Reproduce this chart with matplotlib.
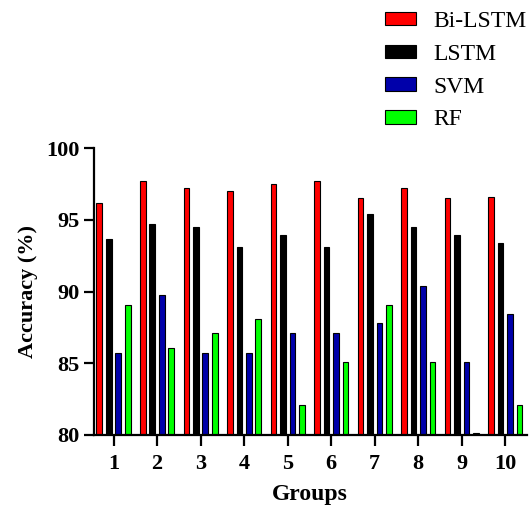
import numpy as np
import matplotlib
matplotlib.use("Agg")
from matplotlib import pyplot as plt

plt.rcParams['font.family'] = ['Liberation Serif', 'DejaVu Serif']

groups = ['1', '2', '3', '4', '5', '6', '7', '8', '9', '10']
bilstm = [96.2, 97.7, 97.25, 97.05, 97.5, 97.7, 96.5, 97.25, 96.5, 96.6]
lstm = [93.65, 94.75, 94.5, 93.1, 93.95, 93.1, 95.45, 94.5, 93.95, 93.4]
svm = [85.7, 89.8, 85.7, 85.7, 87.1, 87.1, 87.8, 90.4, 85.1, 88.45]
rf = [89.1, 86.1, 87.1, 88.1, 82.1, 85.1, 89.1, 85.1, 80.15, 82.1]

series = [('Bi-LSTM', bilstm, '#FF0000'),
          ('LSTM', lstm, '#000000'),
          ('SVM', svm, '#0000AA'),
          ('RF', rf, '#00FF00')]

fig = plt.figure(figsize=(5.30, 5.13), dpi=100)
ax = fig.add_axes([93.5/530, 1 - 435/513, (527 - 93.5)/530, (435 - 148.3)/513])

x = np.arange(1, len(groups) + 1)
step = 0.218
width = 0.13
for i, (name, vals, col) in enumerate(series):
    v = np.array(vals)
    ax.bar(x + (i - 1.5) * step, v - 80, bottom=80, width=width, color=col,
           edgecolor='black', linewidth=0.8, label=name)

ax.set_ylim(80, 100)
ax.set_xlim(0.54, 10.5)
ax.set_yticks([80, 85, 90, 95, 100])
ax.set_xticks(x)
ax.set_xticklabels(groups)

for s in ['top', 'right']:
    ax.spines[s].set_visible(False)
for s in ['left', 'bottom']:
    ax.spines[s].set_linewidth(1.6)

ax.tick_params(axis='y', length=7, width=1.6, pad=3, labelsize=16)
ax.tick_params(axis='x', length=8, width=1.6, pad=6, labelsize=16)
for lab in ax.get_xticklabels() + ax.get_yticklabels():
    lab.set_fontweight('bold')

ax.set_ylabel('Accuracy (%)', fontsize=16, fontweight='bold', labelpad=6)
ax.set_xlabel('Groups', fontsize=17, fontweight='bold', labelpad=7)

fig.legend(loc='upper left', bbox_to_anchor=(385/530, 1 - 11/513),
           frameon=False, fontsize=17, handlelength=1.3, handleheight=0.5,
           handletextpad=0.75, labelspacing=0.5, borderpad=0, borderaxespad=0)

fig.savefig('out.png', dpi=100)
